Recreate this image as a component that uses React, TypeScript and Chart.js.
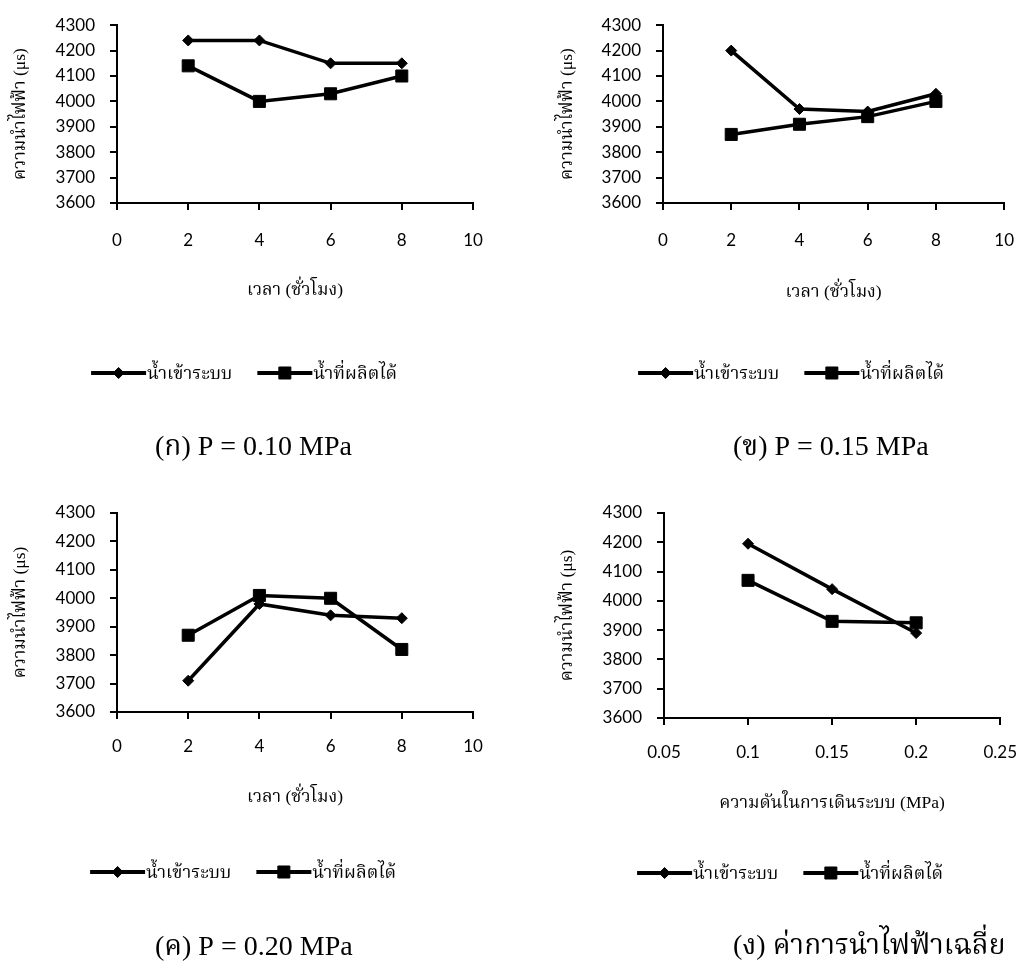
import React, { useEffect, useRef } from "react";
import { Chart, registerables } from "chart.js";
import { drawPoint } from "chart.js/helpers";

Chart.register(...registerables);

// ---------- data ----------
const hours = [2, 4, 6, 8];
const pressures = [0.1, 0.15, 0.2];
const inlet010 = [4240, 4240, 4150, 4150];
const product010 = [4140, 4000, 4030, 4100];
const inlet015 = [4200, 3970, 3960, 4030];
const product015 = [3870, 3910, 3940, 4000];
const inlet020 = [3710, 3980, 3940, 3930];
const product020 = [3870, 4010, 4000, 3820];
const inletAvg = [4195, 4040, 3890];
const productAvg = [4070, 3930, 3925];
const hourTicks = [0, 2, 4, 6, 8, 10];
const pressureTicks = [0.05, 0.1, 0.15, 0.2, 0.25];
const yMin = 3600;
const yMax = 4300;
const yStep = 100;
const seriesNames = ["น้ำเข้าระบบ", "น้ำที่ผลิตได้"];
const yTitle = "ความนำไฟฟ้า (μs)";
const xTitleTime = "เวลา (ชั่วโมง)";
const xTitlePressure = "ความดันในการเดินระบบ (MPa)";
const captions = [
  "(ก) P = 0.10 MPa",
  "(ข) P = 0.15 MPa",
  "(ค) P = 0.20 MPa",
  "(ง) ค่าการนำไฟฟ้าเฉลี่ย",
];

// ---------- layout ----------
const W = 517;
const H = 485;
const THAI = '"Liberation Serif", "Noto Serif Thai", "Noto Sans Thai", serif';
const TICK_FONT = "Lato";
const TITLE_SIZE = 17.5;
const LEGEND_SIZE = 18;
const CAPTION_SIZE = 28;

type Panel = {
  ox: number;
  oy: number;
  xs: number[];
  inlet: number[];
  product: number[];
  xTicks: number[];
  xTitle: string;
  caption: string;
  area: { l: number; t: number; r: number; b: number };
  yTitleX: number;
  xTickGap: number;
  xTitleY: number;
  legendCX: number;
  legendY: number;
  captionX: number;
  captionY: number;
};

const panels: Panel[] = [
  {
    ox: 0, oy: 0, xs: hours, inlet: inlet010, product: product010, xTicks: hourTicks,
    xTitle: xTitleTime, caption: captions[0],
    area: { l: 117, t: 20, r: 473, b: 203 }, yTitleX: 20, xTickGap: 27, xTitleY: 290,
    legendCX: 244, legendY: 373, captionX: 155, captionY: 448,
  },
  {
    ox: 517, oy: 0, xs: hours, inlet: inlet015, product: product015, xTicks: hourTicks,
    xTitle: xTitleTime, caption: captions[1],
    area: { l: 146, t: 20, r: 502, b: 203 }, yTitleX: 50, xTickGap: 27, xTitleY: 292,
    legendCX: 274, legendY: 373, captionX: 216, captionY: 448,
  },
  {
    ox: 0, oy: 485, xs: hours, inlet: inlet020, product: product020, xTicks: hourTicks,
    xTitle: xTitleTime, caption: captions[2],
    area: { l: 117, t: 28, r: 473, b: 227 }, yTitleX: 20, xTickGap: 24, xTitleY: 312,
    legendCX: 243, legendY: 387, captionX: 155, captionY: 463,
  },
  {
    ox: 517, oy: 485, xs: pressures, inlet: inletAvg, product: productAvg, xTicks: pressureTicks,
    xTitle: xTitlePressure, caption: captions[3],
    area: { l: 147, t: 28, r: 496, b: 233 }, yTitleX: 50, xTickGap: 24, xTitleY: 318,
    legendCX: 273, legendY: 388, captionX: 216, captionY: 462,
  },
];

const markerStyles = [
  { pointStyle: "rectRot", radius: 5.5 },
  { pointStyle: "rect", radius: 8.5 },
];

function makeOverlay(p: Panel) {
  return {
    id: "overlay",
    afterDraw(chart: any) {
      const ctx: CanvasRenderingContext2D = chart.ctx;
      ctx.save();
      ctx.font = `${LEGEND_SIZE}px ${THAI}`;
      ctx.textBaseline = "middle";
      ctx.textAlign = "left";
      const lineLen = 55;
      const gap = 25;
      const dsets = chart.data.datasets;
      const widths = dsets.map((d: any) => ctx.measureText(d.label).width);
      const total =
        widths.reduce((a: number, w: number) => a + lineLen + 1 + w, 0) + gap * (dsets.length - 1);
      let x = p.legendCX - total / 2;
      const y = p.legendY;
      dsets.forEach((ds: any, i: number) => {
        ctx.strokeStyle = "#000";
        ctx.fillStyle = "#000";
        ctx.lineWidth = 4;
        ctx.beginPath();
        ctx.moveTo(x, y);
        ctx.lineTo(x + lineLen, y);
        ctx.stroke();
        ctx.lineWidth = 1;
        drawPoint(
          ctx,
          {
            pointStyle: markerStyles[i].pointStyle as any,
            radius: markerStyles[i].radius,
            rotation: 0,
            borderWidth: 1,
          } as any,
          x + lineLen / 2,
          y
        );
        ctx.fillStyle = "#000";
        ctx.fillText(ds.label, x + lineLen + 1, y + 1);
        x += lineLen + 1 + widths[i] + gap;
      });
      ctx.font = `${CAPTION_SIZE}px ${THAI}`;
      ctx.fillStyle = "#000";
      ctx.fillText(p.caption, p.captionX, p.captionY);
      ctx.restore();
    },
  };
}

function PanelChart({ p }: { p: Panel }) {
  const ref = useRef<HTMLCanvasElement | null>(null);
  useEffect(() => {
    if (!ref.current) return;
    const lh = TITLE_SIZE * 1.2;
    const yW = p.area.l;
    const xH = p.xTitleY - p.area.b + lh / 2;
    const tickLen = 7;
    const series = [p.inlet, p.product];
    const chart = new Chart(ref.current, {
      type: "line",
      data: {
        datasets: series.map((vals, i) => ({
          label: seriesNames[i],
          data: p.xs.map((x, j) => ({ x, y: vals[j] })),
          borderColor: "#000",
          backgroundColor: "#000",
          borderWidth: 3.5,
          pointStyle: markerStyles[i].pointStyle as any,
          pointRadius: markerStyles[i].radius,
          pointBorderWidth: 1,
          pointBackgroundColor: "#000",
          pointBorderColor: "#000",
          tension: 0,
          fill: false,
        })),
      },
      options: {
        animation: false,
        responsive: false,
        maintainAspectRatio: false,
        layout: {
          padding: {
            left: 0,
            top: p.area.t,
            right: W - p.area.r,
            bottom: H - p.area.b - xH,
          },
        },
        plugins: {
          legend: { display: false },
          title: { display: false },
          tooltip: { enabled: false },
        },
        scales: {
          x: {
            type: "linear",
            min: p.xTicks[0],
            max: p.xTicks[p.xTicks.length - 1],
            afterBuildTicks: (s: any) => {
              s.ticks = p.xTicks.map((v) => ({ value: v }));
            },
            afterFit: (s: any) => {
              s.height = xH;
            },
            grid: {
              drawOnChartArea: false,
              drawTicks: true,
              tickLength: tickLen,
              color: "#000",
              lineWidth: 2,
            },
            border: { display: true, color: "#000", width: 2 },
            ticks: {
              padding: p.xTickGap - tickLen,
              color: "#000",
              font: { family: TICK_FONT, size: 17 },
              maxRotation: 0,
              autoSkip: false,
              callback: (v: any) => String(v),
            },
            title: {
              display: true,
              text: p.xTitle,
              color: "#000",
              font: { family: THAI, size: TITLE_SIZE },
              padding: 0,
            },
          },
          y: {
            type: "linear",
            min: yMin,
            max: yMax,
            afterFit: (s: any) => {
              s.width = yW;
            },
            grid: {
              drawOnChartArea: false,
              drawTicks: true,
              tickLength: tickLen,
              color: "#000",
              lineWidth: 2,
            },
            border: { display: true, color: "#000", width: 2 },
            ticks: {
              stepSize: yStep,
              padding: 15,
              color: "#000",
              font: { family: TICK_FONT, size: 17 },
              callback: (v: any) => String(v),
            },
            title: {
              display: true,
              text: yTitle,
              color: "#000",
              font: { family: THAI, size: TITLE_SIZE },
              padding: { top: p.yTitleX - lh / 2, bottom: 0 },
            },
          },
        },
      },
      plugins: [makeOverlay(p)],
    });
    return () => chart.destroy();
  }, [p]);
  return (
    <canvas
      ref={ref}
      width={W}
      height={H}
      style={{ position: "absolute", left: p.ox, top: p.oy, width: W, height: H }}
    />
  );
}

export default function App() {
  return (
    <div
      style={{
        position: "absolute",
        left: 0,
        top: 0,
        width: 1034,
        height: 970,
        background: "#fff",
      }}
    >
      {panels.map((p, i) => (
        <PanelChart key={i} p={p} />
      ))}
    </div>
  );
}
